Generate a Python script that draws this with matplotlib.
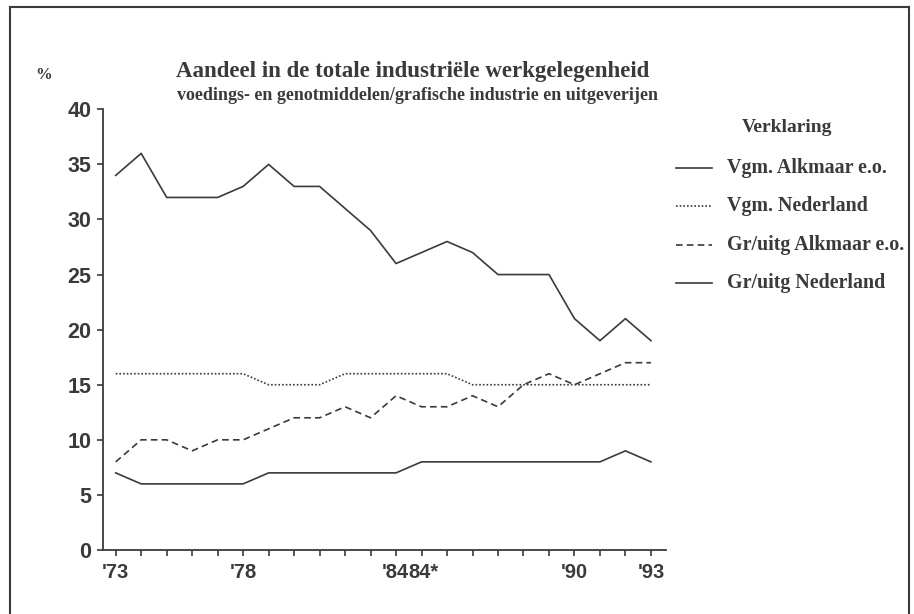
import matplotlib
matplotlib.use("Agg")
import matplotlib.pyplot as plt
from matplotlib.lines import Line2D

# -----------------------------
# Aandeel in de totale industriele werkgelegenheid, '73 - '93
# -----------------------------

periods = ["73", "74", "75", "76", "77", "78", "79", "80", "81", "82", "83",
           "84", "84*", "85", "86", "87", "88", "89", "90", "91", "92", "93"]
tick_idx = [0, 5, 11, 12, 18, 21]
tick_labels = ["'73", "'78", "'84", "84*", "'90", "'93"]

vgm_alkmaar = [34, 36, 32, 32, 32, 33, 35, 33, 33, 31, 29,
               26, 27, 28, 27, 25, 25, 25, 21, 19, 21, 19]
vgm_nederland = [16, 16, 16, 16, 16, 16, 15, 15, 15, 16, 16,
                 16, 16, 16, 15, 15, 15, 15, 15, 15, 15, 15]
gr_alkmaar = [8, 10, 10, 9, 10, 10, 11, 12, 12, 13, 12,
              14, 13, 13, 14, 13, 15, 16, 15, 16, 17, 17]
gr_nederland = [7, 6, 6, 6, 6, 6, 7, 7, 7, 7, 7,
                7, 8, 8, 8, 8, 8, 8, 8, 8, 9, 8]

series_names = ["Vgm. Alkmaar e.o.", "Vgm. Nederland",
                "Gr/uitg Alkmaar e.o.", "Gr/uitg Nederland"]

INK = "#3a3a3a"
SERIF = "Liberation Serif"
SANS = "Liberation Sans"

W, H = 914, 614
fig = plt.figure(figsize=(W / 100, H / 100), dpi=100)

def fx(px):
    return px / W

def fy(py):
    return 1 - py / H

ax = fig.add_axes([fx(102.7), fy(550), fx(665.7) - fx(102.7), fy(109.3) - fy(550)])

x = list(range(len(periods)))
styles = [
    dict(linestyle="-"),
    dict(linestyle=(0, (1, 1.2))),
    dict(linestyle=(0, (4, 2.5))),
    dict(linestyle="-"),
]
all_series = [vgm_alkmaar, vgm_nederland, gr_alkmaar, gr_nederland]
for vals, st in zip(all_series, styles):
    ax.plot(x, vals, color=INK, lw=1.2, **st)

ax.set_xlim(-0.51, 21.58)
ax.set_ylim(0, 40)
ax.set_yticks(range(0, 41, 5))
ax.set_xticks(x)
ax.set_xticklabels(["" for _ in x])
# x labels; '84 and 84* sit side by side (they share one spot in the original)
for i, lab in zip(tick_idx, tick_labels):
    if lab == "'84":
        xi, ha = i + 0.5, "right"
    elif lab == "84*":
        xi, ha = i - 0.5, "left"
    else:
        xi, ha = i, "center"
    ax.text(xi, -1.2, lab, ha=ha, va="top", fontsize=14.5, fontweight="bold",
            family=SANS, color=INK, clip_on=False)

for side in ["top", "right"]:
    ax.spines[side].set_visible(False)
for side in ["left", "bottom"]:
    ax.spines[side].set_color(INK)
    ax.spines[side].set_linewidth(1.3)
ax.tick_params(axis="both", color=INK, width=1.2, length=4, direction="out")
ax.tick_params(axis="y", pad=4)
for lab in ax.get_yticklabels():
    lab.set_fontsize(15.5)
    lab.set_fontweight("bold")
    lab.set_family(SANS)
    lab.set_color(INK)

# titles and unit
fig.text(fx(176), fy(72), "Aandeel in de totale industriële werkgelegenheid",
         ha="left", va="center", fontsize=16.5, fontweight="bold", family=SERIF, color=INK)
fig.text(fx(177), fy(96), "voedings- en genotmiddelen/grafische industrie en uitgeverijen",
         ha="left", va="center", fontsize=13, fontweight="bold", family=SERIF, color=INK)
fig.text(fx(44), fy(75), "%", ha="center", va="center", fontsize=12,
         fontweight="bold", family=SERIF, color=INK)

# legend
fig.text(fx(787), fy(128), "Verklaring", ha="center", va="center", fontsize=14,
         fontweight="bold", family=SERIF, color=INK)
leg_y = [168, 206, 245, 283]
for name, st, yy in zip(series_names, styles, leg_y):
    fig.add_artist(Line2D([fx(676), fx(712)], [fy(yy), fy(yy)], color=INK, lw=1.2,
                          transform=fig.transFigure, **st))
    fig.text(fx(727), fy(yy), name, ha="left", va="center", fontsize=14.4,
             fontweight="bold", family=SERIF, color=INK)

# frame of the page
frame = [([10, 10], [7, 614]), ([10, 909], [7, 7]), ([909, 909], [7, 614])]
for xs, ys in frame:
    fig.add_artist(Line2D([fx(v) for v in xs], [fy(v) for v in ys], color=INK,
                          lw=1.5, transform=fig.transFigure))

fig.savefig("out.png", dpi=100, facecolor="white")
